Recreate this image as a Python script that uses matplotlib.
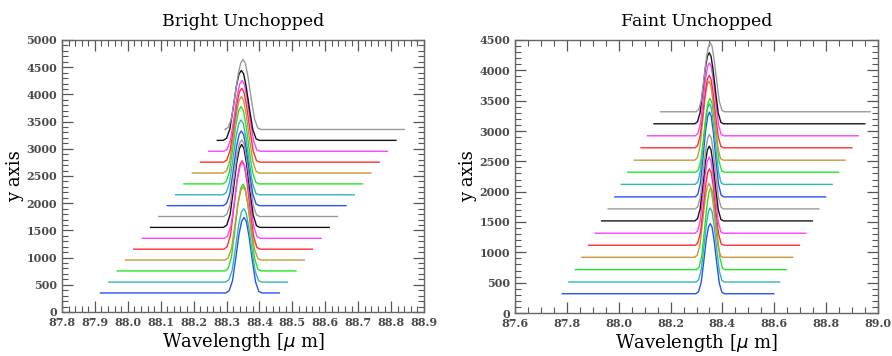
import numpy as np
import matplotlib
matplotlib.use('Agg')
from matplotlib import pyplot as plt
from matplotlib.ticker import MultipleLocator

# цвета кривых (повторяются через 8)
colors = ['#2a52f0', '#33b5b5', '#22e622', '#c8963c', '#ff3030', '#ff40ff', '#151515', '#9a9a9a'] * 2

# форма линии (нормированная), смещения от центра в мкм
prof_dx = [-0.055, -0.045, -0.035, -0.025, -0.015, -0.007, 0.000, 0.007, 0.015, 0.025, 0.035, 0.045, 0.055]
prof_y = [0.00, 0.03, 0.16, 0.46, 0.78, 0.95, 1.00, 0.95, 0.76, 0.44, 0.15, 0.02, 0.00]

# Bright Unchopped
b_start = [87.917, 87.942, 87.968, 87.993, 88.018, 88.044, 88.069, 88.094,
           88.120, 88.145, 88.170, 88.196, 88.221, 88.246, 88.272, 88.297]
b_end = [88.460, 88.485, 88.511, 88.536, 88.561, 88.587, 88.612, 88.637,
         88.663, 88.688, 88.713, 88.739, 88.764, 88.789, 88.815, 88.840]
b_base = [350, 550, 755, 955, 1155, 1355, 1555, 1755,
          1955, 2155, 2355, 2555, 2755, 2955, 3155, 3355]
b_peak = [1738, 1900, 2350, 2300, 2778, 2750, 3080, 3164,
          3329, 3531, 3776, 3960, 4112, 4253, 4440, 4640]
b_center = [88.353, 88.352, 88.350, 88.350, 88.347, 88.348, 88.346, 88.346,
            88.345, 88.344, 88.344, 88.345, 88.346, 88.347, 88.345, 88.350]

# Faint Unchopped
f_start = [87.782, 87.808, 87.833, 87.858, 87.884, 87.909, 87.934, 87.959,
           87.985, 88.010, 88.035, 88.060, 88.086, 88.111, 88.136, 88.161]
f_end = [88.598, 88.621, 88.646, 88.671, 88.697, 88.722, 88.747, 88.772,
         88.798, 88.823, 88.848, 88.873, 88.899, 88.924, 88.949, 88.970]
f_base = [318, 511, 715, 918, 1117, 1315, 1518, 1716,
          1914, 2120, 2321, 2519, 2723, 2921, 3119, 3317]
f_peak = [1474, 1733, 2063, 2134, 2376, 2569, 2750, 2943,
          3311, 3450, 3537, 3823, 3916, 4125, 4290, 4455]
f_center = [88.353, 88.353, 88.355, 88.348, 88.350, 88.349, 88.349, 88.350,
            88.350, 88.350, 88.352, 88.348, 88.349, 88.350, 88.349, 88.353]

plt.rcParams['font.family'] = 'DejaVu Serif'

fig = plt.figure(figsize=(8.92, 3.56), dpi=100)
ax1 = fig.add_axes([62 / 892, 1 - 312 / 356, 362 / 892, 272 / 356])
ax2 = fig.add_axes([515 / 892, 1 - 313 / 356, 363 / 892, 273 / 356])


def draw(ax, start, end, base, peak, center):
    for i in range(len(start)):
        x = [start[i]] + [center[i] + d for d in prof_dx] + [end[i]]
        y = [base[i]] + [base[i] + (peak[i] - base[i]) * p for p in prof_y] + [base[i]]
        ax.plot(x, y, color=colors[i], lw=1.0)


draw(ax1, b_start, b_end, b_base, b_peak, b_center)
draw(ax2, f_start, f_end, f_base, f_peak, f_center)

ax1.set_xlim(87.8, 88.9)
ax1.set_ylim(0, 5000)
ax1.xaxis.set_major_locator(MultipleLocator(0.1))
ax1.xaxis.set_minor_locator(MultipleLocator(0.02))
ax1.set_title('Bright Unchopped', fontsize=12.5, pad=10)

ax2.set_xlim(87.6, 89.0)
ax2.set_ylim(0, 4500)
ax2.xaxis.set_major_locator(MultipleLocator(0.2))
ax2.xaxis.set_minor_locator(MultipleLocator(0.05))
ax2.set_title('Faint Unchopped', fontsize=12.5, pad=10)

for ax in (ax1, ax2):
    ax.yaxis.set_major_locator(MultipleLocator(500))
    ax.yaxis.set_minor_locator(MultipleLocator(100))
    ax.tick_params(which='both', direction='in', top=True, right=True,
                   colors='#555555', labelcolor='#4a4a4a', labelsize=8)
    ax.tick_params(which='major', length=8, width=0.9)
    ax.tick_params(which='minor', length=4, width=0.8)
    for lab in ax.get_xticklabels() + ax.get_yticklabels():
        lab.set_fontweight('bold')
    for s in ax.spines.values():
        s.set_color('#666666')
        s.set_linewidth(1.0)
    ax.set_xlabel('Wavelength [$\\mu$ m]', fontsize=13, labelpad=2)
    ax.set_ylabel('y axis', fontsize=13, labelpad=2)

fig.savefig('out.png', dpi=100)
